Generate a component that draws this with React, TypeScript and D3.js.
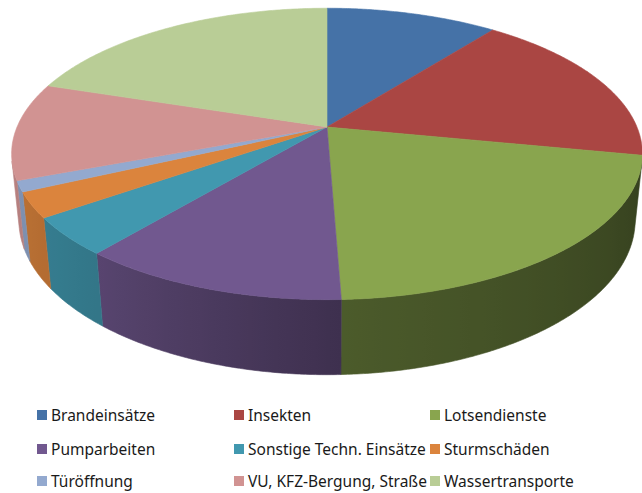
import React from "react";
import * as d3 from "d3";

const categories = [
  "Brandeinsätze",
  "Insekten",
  "Lotsendienste",
  "Pumparbeiten",
  "Sonstige Techn. Einsätze",
  "Sturmschäden",
  "Türöffnung",
  "VU, KFZ-Bergung, Straße",
  "Wassertransporte",
];
const values = [10.5, 17.6, 21.3, 11.6, 4.2, 2.8, 1.2, 10.8, 20.0];
const colors = [
  "#4572a7",
  "#aa4643",
  "#89a54e",
  "#71588f",
  "#4198af",
  "#db843d",
  "#93a9cf",
  "#d19392",
  "#b9cd96",
];

const W = 642;
const H = 493;
const CX = 327;
const CY = 127;
const ALPHA = (27 * Math.PI) / 180;
const S = Math.sin(ALPHA);
const C = Math.cos(ALPHA);
const DIST = 4.82;
const FOCAL = 1494;
const DEPTH = 0.242;

function proj(theta: number, r: number, z: number): [number, number] {
  const x = r * Math.sin(theta);
  const y = r * Math.cos(theta);
  const u = x;
  const v = y * S + z * C;
  const w = y * C - z * S + DIST;
  return [CX + (FOCAL * u) / w, CY - (FOCAL * v) / w];
}

const shade = d3
  .scaleLinear<number>()
  .domain([100, 178, 220, 245, 260])
  .range([0.38, 0.55, 0.78, 0.85, 0.92])
  .clamp(true);

function darken(col: string, f: number) {
  const c = d3.rgb(col);
  return d3.rgb(c.r * f, c.g * f, c.b * f).formatHex();
}

export default function App() {
  const pie = d3.pie<number>().sort(null).value((d) => d);
  const arcs = pie(values);
  const deg = Math.PI / 180;
  const visA = Math.acos(-1 / (DIST * C));
  const vis0 = visA;
  const vis1 = 2 * Math.PI - visA;

  const sample = (a0: number, a1: number) => {
    const n = Math.max(2, Math.ceil((a1 - a0) / (0.5 * deg)));
    return d3.range(n + 1).map((i) => a0 + ((a1 - a0) * i) / n);
  };

  const line = d3.line<[number, number]>();

  const walls: React.ReactNode[] = [];
  const defs: React.ReactNode[] = [];
  arcs.forEach((a, i) => {
    const a0 = Math.max(a.startAngle, vis0);
    const a1 = Math.min(a.endAngle, vis1);
    if (a1 <= a0) return;
    const ts = sample(a0, a1);
    const top = ts.map((t) => proj(t, 1, 0));
    const bot = ts.map((t) => proj(t, 1, -DEPTH)).reverse();
    const pts = [...top, ...bot];
    const xs = pts.map((p) => p[0]);
    const xmin = d3.min(xs)!;
    const xmax = d3.max(xs)!;
    const id = `wall${i}`;
    const stops = ts
      .filter((_, k) => k % 4 === 0 || k === ts.length - 1)
      .map((t) => {
        const px = proj(t, 1, 0)[0];
        return {
          off: (px - xmin) / Math.max(1, xmax - xmin),
          col: darken(colors[i], shade(t / deg)),
        };
      })
      .sort((p, q) => p.off - q.off);
    defs.push(
      <linearGradient
        key={id}
        id={id}
        gradientUnits="userSpaceOnUse"
        x1={xmin}
        x2={xmax}
        y1={0}
        y2={0}
      >
        {stops.map((s, k) => (
          <stop key={k} offset={s.off} stopColor={s.col} />
        ))}
      </linearGradient>
    );
    walls.push(
      <path
        key={id}
        d={line(pts as [number, number][])! + "Z"}
        fill={`url(#${id})`}
        stroke={`url(#${id})`}
        strokeWidth={0.6}
      />
    );
  });

  const tops = arcs.map((a, i) => {
    const ts = sample(a.startAngle, a.endAngle);
    const pts: [number, number][] = [[CX, CY], ...ts.map((t) => proj(t, 1, 0))];
    return (
      <path
        key={`top${i}`}
        d={line(pts)! + "Z"}
        fill={colors[i]}
        stroke={colors[i]}
        strokeWidth={0.6}
        strokeLinejoin="round"
      />
    );
  });

  const colX = [37, 234, 430];
  const rowY = [415, 449, 481];

  return (
    <svg
      width={W}
      height={H}
      style={{ position: "absolute", left: 0, top: 0, background: "#fff" }}
      fontFamily="'Noto Sans', sans-serif"
    >
      <defs>{defs}</defs>
      <rect x={0} y={0} width={W} height={H} fill="#fff" />
      <g>{walls}</g>
      <g>{tops}</g>
      <g>
        {categories.map((c, i) => {
          const x = colX[i % 3];
          const y = rowY[Math.floor(i / 3)];
          return (
            <g key={c}>
              <rect x={x} y={y - 5} width={10} height={10} fill={colors[i]} />
              <text x={x + 14} y={y} dy="0.36em" fontSize={15.5} fill="#1a1a1a">
                {c}
              </text>
            </g>
          );
        })}
      </g>
    </svg>
  );
}
